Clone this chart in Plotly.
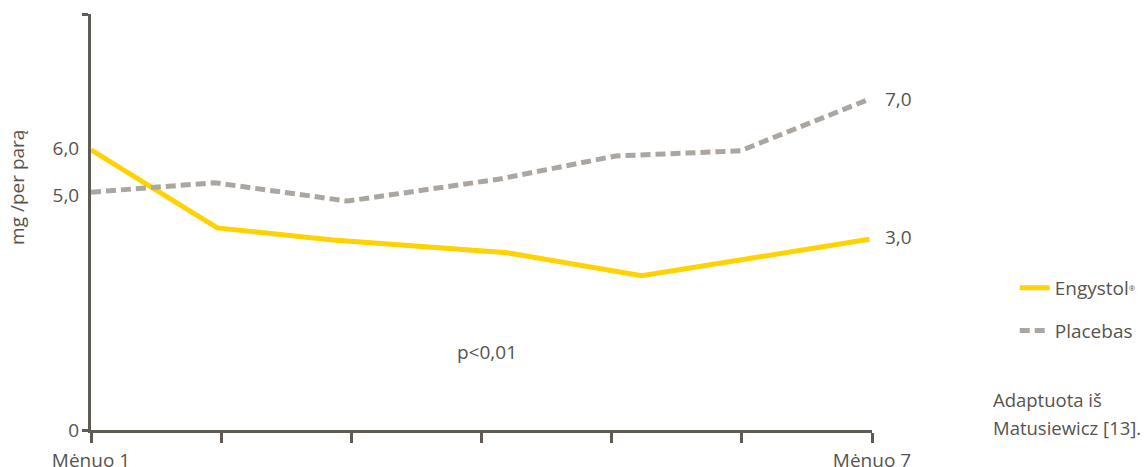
import plotly.graph_objects as go

# ---- data ----
months_engystol = [1, 1.97, 2.86, 4.20, 5.23, 6.98]
engystol = [5.96, 4.30, 4.04, 3.77, 3.28, 4.06]
months_placebo = [1, 1.95, 2.97, 4.14, 5.03, 5.99, 6.98]
placebo = [5.06, 5.26, 4.87, 5.34, 5.83, 5.94, 7.04]

x_labelvals = [1, 7]
x_labeltext = ["Mėnuo 1", "Mėnuo 7"]
x_inner_ticks = [2, 3, 4, 5, 6]
y_tickvals = [0, 5, 6]
y_ticktext = ["0", "5,0", "6,0"]
y_top = 8.85

end_label_engystol = "3,0"
end_label_placebo = "7,0"

YELLOW = "#FFD200"
GRAY = "#ABA6A1"
AXIS = "#5F5B53"
TEXT = "#57544D"
FONT = "Open Sans"
FS = 19

fig = go.Figure()
fig.add_trace(go.Scatter(
    x=months_engystol, y=engystol, mode="lines",
    name="Engystol<span style=\"font-size:11px\"><sup>®</sup></span>",
    line=dict(color=YELLOW, width=5), legendgroup="a"))
fig.add_trace(go.Scatter(
    x=months_placebo, y=placebo, mode="lines", name="Placebas",
    line=dict(color=GRAY, width=5, dash="10px,5px"), legendgroup="b"))

fig.add_annotation(x=months_placebo[-1], y=placebo[-1], text=end_label_placebo,
                   xref="x", yref="y", xanchor="left", yanchor="middle",
                   xshift=14, showarrow=False, font=dict(size=FS, color=TEXT, family=FONT))
fig.add_annotation(x=months_engystol[-1], y=engystol[-1], text=end_label_engystol,
                   xref="x", yref="y", xanchor="left", yanchor="middle",
                   xshift=14, yshift=2, showarrow=False, font=dict(size=FS, color=TEXT, family=FONT))
fig.add_annotation(x=4.04, y=1.65, text="p<0,01", xref="x", yref="y",
                   showarrow=False, font=dict(size=FS, color=TEXT, family=FONT))
fig.add_annotation(x=0, y=5.15, text="mg /per parą", xref="paper", yref="y",
                   xanchor="center", yanchor="middle",
                   xshift=-74, textangle=-90, showarrow=False,
                   font=dict(size=FS, color=TEXT, family=FONT))
fig.add_annotation(x=1.153, y=0.074, text="Adaptuota iš", xref="paper", yref="paper",
                   xanchor="left", yanchor="middle", showarrow=False,
                   font=dict(size=18.5, color=TEXT, family=FONT))
fig.add_annotation(x=1.153, y=0.007, text="Matusiewicz [13].", xref="paper", yref="paper",
                   xanchor="left", yanchor="middle", showarrow=False,
                   font=dict(size=18.5, color=TEXT, family=FONT))

fig.update_layout(
    template="none",
    width=1144, height=467,
    margin=dict(l=91, r=272, t=14, b=37, autoexpand=False),
    paper_bgcolor="white", plot_bgcolor="white",
    font=dict(family=FONT, size=FS, color=TEXT),
    showlegend=True,
    legend=dict(xref="container", yref="container", x=0.887, y=0.424,
                xanchor="left", yanchor="top", tracegroupgap=15,
                font=dict(size=FS, color=TEXT, family=FONT),
                bgcolor="rgba(0,0,0,0)", borderwidth=0),
    xaxis=dict(range=[1, 7], tickvals=x_labelvals, ticktext=x_labeltext,
               showline=True, linecolor=AXIS, linewidth=3, automargin=False,
               ticks="outside", ticklen=10, tickwidth=3, tickcolor=AXIS,
               showgrid=False, zeroline=False, ticklabelstandoff=1,
               tickfont=dict(size=FS, color=TEXT, family=FONT),
               minor=dict(tickvals=x_inner_ticks, ticks="outside", ticklen=10,
                          tickwidth=3, tickcolor=AXIS, showgrid=False)),
    yaxis=dict(range=[0, y_top], tickvals=y_tickvals, ticktext=y_ticktext,
               showline=True, linecolor=AXIS, linewidth=3, automargin=False,
               ticks="", showgrid=False, zeroline=False, ticklabelstandoff=5,
               tickfont=dict(size=FS, color=TEXT, family=FONT),
               minor=dict(tickvals=[0, y_top], ticks="outside", ticklen=6,
                          tickwidth=3, tickcolor=AXIS, showgrid=False)),
)

fig.write_html("out.html", config={"displayModeBar": False},
               post_script="document.body.style.margin='0';")
